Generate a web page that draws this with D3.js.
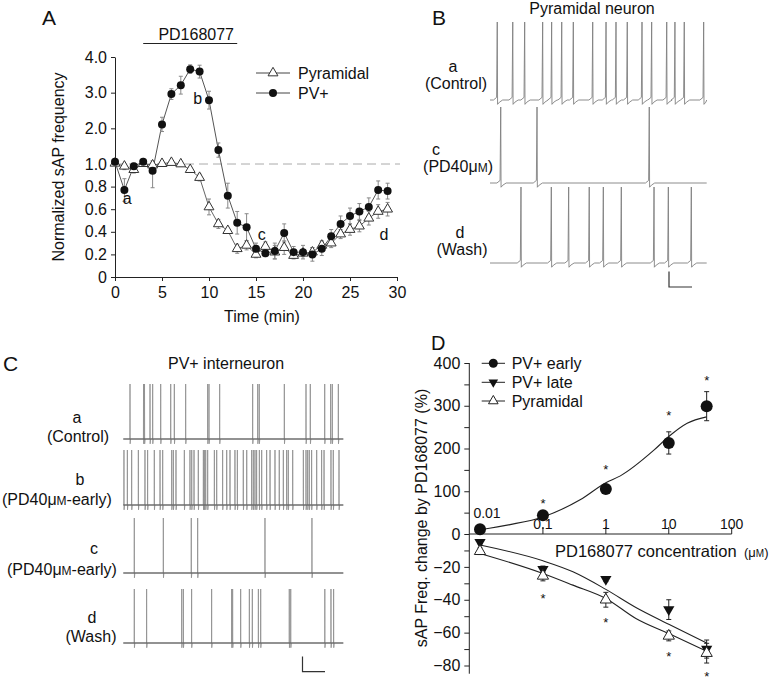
<!DOCTYPE html>
<html><head><meta charset="utf-8">
<script src="https://cdn.jsdelivr.net/npm/d3@7"></script>
<style>
body{margin:0;background:#fff}
svg{display:block}
text{font-family:"Liberation Sans",Arial,Helvetica,sans-serif;fill:#111}
</style>
</head><body>
<svg id="fig" width="775" height="683"></svg>
<script>
// ================= DATA =================
// Panel A: time course (minutes) of normalized sAP frequency
const timeMin = [0,1,2,3,4,5,6,7,8,9,10,11,12,13,14,15,16,17,18,19,20,21,22,23,24,25,26,27,28,29];
const pvFreq  = [1.06,0.77,0.98,1.06,0.94,2.11,2.96,3.21,3.66,3.59,2.79,1.39,0.72,0.48,0.44,0.25,0.21,0.23,0.39,0.22,0.22,0.20,0.25,0.36,0.47,0.54,0.58,0.62,0.77,0.76];
const pvErr   = [0.05,0.10,0.04,0.05,0.15,0.20,0.15,0.25,0.12,0.18,0.25,0.20,0.11,0.10,0.12,0.05,0.03,0.07,0.08,0.05,0.06,0.06,0.06,0.06,0.07,0.07,0.07,0.08,0.08,0.07];
const pyrFreq = [1.02,0.98,0.95,1.01,0.99,1.01,1.04,1.00,0.95,0.88,0.62,0.47,0.41,0.25,0.28,0.20,0.27,0.22,0.26,0.19,0.21,0.22,0.28,0.30,0.38,0.42,0.45,0.52,0.58,0.60];
const pyrErr  = [0.03,0.03,0.03,0.03,0.03,0.02,0.02,0.02,0.02,0.03,0.07,0.04,0.02,0.04,0.04,0.03,0.04,0.06,0.06,0.03,0.03,0.04,0.04,0.04,0.04,0.05,0.05,0.06,0.06,0.06];
const aTicksX = [0,5,10,15,20,25,30];
const aTicksY = [0,0.2,0.4,0.6,0.8,1.0,2.0,3.0,4.0];
const aTickLabelsY = ["0","0.2","0.4","0.6","0.8","1.0","2.0","3.0","4.0"];
const drugWindow = [3,13];           // PD168077 application (min)
const aPointLabels = [               // [label, time, value] sample markers
  ["a",1.3,0.70],["b",8.8,2.85],["c",15.6,0.38],["d",28.6,0.38]
];

// Panel B: pyramidal neuron spike times (s) in each sweep
const sweepSec = 20;
const pyrSpikesA = [0.67,2.10,3.20,4.86,5.69,6.62,7.69,9.48,10.71,11.63,12.67,14.03,14.92,16.31,17.07,17.93,19.72];
const pyrSpikesC = [0.99,4.34,14.70];
const pyrSpikesD = [2.86,5.66,7.26,9.16,10.46,12.12,15.14,16.46,18.58];

// Panel C: PV+ interneuron spike times (s)
const pvSpikesA = [0.61,1.84,1.93,2.43,2.67,3.40,4.31,4.64,5.67,7.67,7.79,8.76,11.76,12.22,12.36,14.64,16.61,17.00,18.31,18.85,19.00,19.55];
const pvSpikesB = [0.06,0.37,0.76,1.37,1.97,2.21,2.82,3.34,3.58,4.40,4.55,4.79,5.55,6.06,6.22,6.43,6.82,7.28,7.37,7.49,7.67,8.28,8.49,9.03,9.40,9.70,10.15,10.37,10.91,11.22,11.67,11.82,11.97,12.12,12.37,12.58,13.03,13.34,13.79,14.18,14.55,14.85,15.00,15.40,16.37,16.61,16.76,16.91,17.12,17.58,18.03,18.25,18.88,19.09,19.61];
const pvSpikesC = [1.00,3.64,6.18,6.76,12.88,17.15];
const pvSpikesD = [1.00,2.12,5.31,5.46,6.21,8.03,9.85,9.94,10.67,11.46,11.73,12.28,12.49,15.09,15.22,18.32,18.88,19.12];

// Panel D: concentration-response (µM, % change)
const concs     = [0.01,0.1,1,10,40];
const pvEarly   = [11,44,105,213,299];
const pvEarlyE  = [3,4,5,26,34];
const pvLate    = [-5,-21.5,-27.5,-46,-70];
const pvLateE   = [1,2,1.5,6,5.5];
const pyrD      = [-10.5,-25.5,-40,-62,-72.5];
const pyrDE     = [2,3,4.5,3,6];
const fitEarlyX = [0.01,0.03,0.1,0.39,1,1.7,5.8,10,19.6,40];
const fitEarlyY = [10,22,40,80,120,136,196,228,259,274];
const fitLowX   = [0.01,0.1,0.3,1,3,10,40];
const fitLateY  = [-6.7,-16.3,-23,-33.7,-44.7,-54.9,-66.3];
const fitPyrY   = [-11.8,-24,-31.1,-39.2,-51.4,-60.6,-71.3];
const starsUp   = [[0.1,78],[1,157],[10,284],[40,364]];
const starsDown = [[0.1,-37.8],[1,-52.4],[10,-73.2],[40,-85]];
const dTicksMajor = [-80,-60,-40,-20,0,100,200,300,400];
const dTicksMinor = [-70,-50,-30,-10,50,150,250,350];
const dTicksX = [0.1,1,10,100];
const dTickLabelsX = ["0.1","1","10","100"];

// ================= DRAW =================
const svg = d3.select("#fig");
svg.append("rect").attr("width",775).attr("height",683).attr("fill","#fff");
const FS = 16;

function txt(g,x,y,s,opt={}){
  const t = g.append("text").attr("x",x).attr("y",y).attr("font-size",opt.size||FS)
    .attr("text-anchor",opt.anchor||"start").text(s);
  if(opt.rotate) t.attr("transform",`rotate(${opt.rotate},${x},${y})`);
  return t;
}
function styleAxis(g,size){
  g.selectAll("path.domain").attr("stroke","#222").attr("stroke-width",1);
  g.selectAll(".tick line").attr("stroke","#222");
  g.selectAll(".tick text").attr("font-size",size||FS).attr("fill","#111")
    .attr("font-family","'Liberation Sans',Arial,sans-serif");
}

// ---------- Panel A ----------
const gA = svg.append("g");
const xA = d3.scaleLinear([0,30],[115,397]);
const yA = d3.scaleLinear([0,1,4],[277,164,57]);

txt(gA,42,25,"A",{size:21});
gA.append("line").attr("x1",xA(drugWindow[0])).attr("x2",xA(drugWindow[1]))
  .attr("y1",43.5).attr("y2",43.5).attr("stroke","#222").attr("stroke-width",1.2);
txt(gA,(xA(drugWindow[0])+xA(drugWindow[1]))/2+6,40,"PD168077",{anchor:"middle"});

gA.append("line").attr("x1",xA(0)).attr("x2",xA(30)+3).attr("y1",yA(1)).attr("y2",yA(1))
  .attr("stroke","#aaa").attr("stroke-dasharray","9,5").attr("stroke-width",1);

const axAx = gA.append("g").attr("transform",`translate(0,${yA(0)})`)
  .call(d3.axisBottom(xA).tickValues(aTicksX).tickSize(4).tickSizeOuter(0).tickPadding(6));
styleAxis(axAx);
const axAy = gA.append("g").attr("transform",`translate(${xA(0)},0)`)
  .call(d3.axisLeft(yA).tickValues(aTicksY).tickFormat((d,i)=>aTickLabelsY[i]).tickSize(4).tickSizeOuter(0).tickPadding(4));
styleAxis(axAy);

txt(gA,64,167,"Normalized sAP frequency",{anchor:"middle",rotate:-90});
txt(gA,262,322,"Time (min)",{anchor:"middle"});

const lineA = (vals)=>d3.line().x((d,i)=>xA(timeMin[i])).y(d=>yA(d))(vals);
gA.append("path").attr("d",lineA(pyrFreq)).attr("fill","none").attr("stroke","#666").attr("stroke-width",1);
gA.append("path").attr("d",lineA(pvFreq)).attr("fill","none").attr("stroke","#555").attr("stroke-width",1);

function errBars(g,xs,ys,xv,yv,ev,color,cap){
  xv.forEach((x,i)=>{
    const X=xs(x), y1=ys(yv[i]-ev[i]), y2=ys(yv[i]+ev[i]);
    g.append("line").attr("x1",X).attr("x2",X).attr("y1",y1).attr("y2",y2).attr("stroke",color).attr("stroke-width",1);
    [y1,y2].forEach(y=>g.append("line").attr("x1",X-cap).attr("x2",X+cap).attr("y1",y).attr("y2",y).attr("stroke",color).attr("stroke-width",1));
  });
}
errBars(gA,xA,yA,timeMin,pyrFreq,pyrErr,"#888",2);
errBars(gA,xA,yA,timeMin,pvFreq,pvErr,"#888",2);

const triUp = d3.symbol(d3.symbolTriangle,42)();
gA.selectAll(".tri").data(pyrFreq).join("path").attr("d",triUp)
  .attr("transform",(d,i)=>`translate(${xA(timeMin[i])},${yA(d)})`)
  .attr("fill","#fff").attr("stroke","#333").attr("stroke-width",1);
gA.selectAll(".dot").data(pvFreq).join("circle")
  .attr("cx",(d,i)=>xA(timeMin[i])).attr("cy",d=>yA(d)).attr("r",4).attr("fill","#111");

aPointLabels.forEach(([l,t,v])=>txt(gA,xA(t),yA(v)+6,l,{anchor:"middle"}));

[["Pyramidal",73,"tri"],["PV+",93,"dot"]].forEach(([name,y,type])=>{
  gA.append("line").attr("x1",256).attr("x2",290).attr("y1",y).attr("y2",y).attr("stroke","#444");
  if(type==="tri") gA.append("path").attr("d",triUp).attr("transform",`translate(273,${y})`).attr("fill","#fff").attr("stroke","#333");
  else gA.append("circle").attr("cx",273).attr("cy",y).attr("r",4).attr("fill","#111");
  txt(gA,298,y+6,name);
});

// ---------- trace helper ----------
function tracePath(spikes,xs,ys,shape,base){
  const pts=[[0,base]];
  spikes.slice().sort((a,b)=>a-b).forEach(s=>shape.forEach(([dt,v])=>pts.push([s+dt,v])));
  pts.push([sweepSec,base]);
  return d3.line().x(d=>xs(Math.max(0,Math.min(sweepSec,d[0])))).y(d=>ys(d[1]))(pts);
}
const pyrShape = [[-0.35,-65],[-0.06,-62],[0,25],[0.03,-70],[0.2,-67.5],[0.5,-65]];
const pvShape  = [[-0.012,-65],[0,15],[0.012,-72],[0.05,-65]];

// ---------- Panel B ----------
const gB = svg.append("g");
txt(gB,432,25,"B",{size:21});
txt(gB,592,14,"Pyramidal neuron",{anchor:"middle"});
const xB = d3.scaleLinear([0,sweepSec],[490,706.7]);
const bRows = [
  {sp:pyrSpikesA,base:100,top:22,l1:"a",l1x:453,l1y:72,l2:"(Control)",l2x:456,l2y:89},
  {sp:pyrSpikesC,base:183,top:107,l1:"c",l1x:436,l1y:155,l2:"(PD40",l2x:458,l2y:172,micro:")"},
  {sp:pyrSpikesD,base:263,top:187,l1:"d",l1x:460,l1y:238,l2:"(Wash)",l2x:462,l2y:255}
];
bRows.forEach(r=>{
  const ys = d3.scaleLinear([-65,25],[r.base,r.top]);
  gB.append("path").attr("d",tracePath(r.sp,xB,ys,pyrShape,-65)).attr("fill","none").attr("stroke","#808080").attr("stroke-width",0.9);
  txt(gB,r.l1x,r.l1y,r.l1,{anchor:"middle"});
  const t = txt(gB,r.l2x,r.l2y,r.l2,{anchor:"middle"});
  if(r.micro){ t.append("tspan").text("μ"); t.append("tspan").attr("font-size",12).text("M"); t.append("tspan").text(r.micro); }
});
gB.append("path").attr("d","M669,271.5V287H692").attr("fill","none").attr("stroke","#333").attr("stroke-width",1.2);

// ---------- Panel C ----------
const gC = svg.append("g");
txt(gC,3,371,"C",{size:21});
txt(gC,226,369,"PV+ interneuron",{anchor:"middle"});
const xC = d3.scaleLinear([0,sweepSec],[123.3,343.3]);
const cRows = [
  {sp:pvSpikesA,base:439,top:384,l1:"a",l1x:77,l1y:423,l2:"(Control)",l2x:78,l2y:442},
  {sp:pvSpikesB,base:505,top:450,l1:"b",l1x:80,l1y:485,l2:"(PD40",l2x:57,l2y:505,micro:"-early)"},
  {sp:pvSpikesC,base:573,top:518,l1:"c",l1x:94,l1y:554,l2:"(PD40",l2x:62,l2y:575,micro:"-early)"},
  {sp:pvSpikesD,base:643,top:589,l1:"d",l1x:92,l1y:623,l2:"(Wash)",l2x:91,l2y:642}
];
cRows.forEach(r=>{
  const ys = d3.scaleLinear([-65,15],[r.base,r.top]);
  gC.append("path").attr("d",tracePath(r.sp,xC,ys,pvShape,-65)).attr("fill","none").attr("stroke","#909090").attr("stroke-width",0.85);
  gC.append("line").attr("x1",xC(0)).attr("x2",xC(sweepSec)).attr("y1",r.base).attr("y2",r.base).attr("stroke","#555").attr("stroke-width",1);
  txt(gC,r.l1x,r.l1y,r.l1,{anchor:"middle"});
  const t = txt(gC,r.l2x,r.l2y,r.l2,{anchor:"middle"});
  if(r.micro){ t.append("tspan").text("μ"); t.append("tspan").attr("font-size",12).text("M"); t.append("tspan").text(r.micro); }
});
gC.append("path").attr("d","M302.5,656.5V671.7H325").attr("fill","none").attr("stroke","#333").attr("stroke-width",1.2);

// ---------- Panel D ----------
const gD = svg.append("g");
txt(gD,431,350,"D",{size:20});
const xD = d3.scaleLog([0.01,100],[480,731.7]);
const yD = d3.scaleLinear([-80,0,400],[665.5,534,363]);
const yAxisX = 469.3;

const axDy = gD.append("g").attr("transform",`translate(${yAxisX},0)`)
  .call(d3.axisLeft(yD).tickValues(dTicksMajor).tickFormat(d=>d<0?"−"+Math.abs(d):d).tickSize(5).tickSizeOuter(0).tickPadding(4));
styleAxis(axDy);
axDy.select("path.domain").remove();
const axDy2 = gD.append("g").attr("transform",`translate(${yAxisX},0)`)
  .call(d3.axisLeft(yD).tickValues(dTicksMinor).tickFormat("").tickSize(5).tickSizeOuter(0));
styleAxis(axDy2);
axDy2.select("path.domain").remove();
gD.append("line").attr("x1",yAxisX).attr("x2",yAxisX).attr("y1",yD(400)).attr("y2",yD(-85)).attr("stroke","#222");

gD.append("line").attr("x1",yAxisX).attr("x2",xD(100)).attr("y1",yD(0)).attr("y2",yD(0)).attr("stroke","#222");
dTicksX.forEach((v,i)=>{
  gD.append("line").attr("x1",xD(v)).attr("x2",xD(v)).attr("y1",yD(0)).attr("y2",yD(0)-7).attr("stroke","#222");
  txt(gD,xD(v),yD(0)-5,dTickLabelsX[i],{anchor:"middle",size:14});
});
txt(gD,xD(0.01)+7,yD(0)-16,"0.01",{anchor:"middle",size:14});
txt(gD,555,557,"PD168077 concentration",{size:16.5});
const xu = txt(gD,744,557,"(μ",{size:13});
xu.append("tspan").attr("font-size",10).text("M");
xu.append("tspan").attr("font-size",13).text(")");
txt(gD,427,518,"sAP Freq. change by PD168077 (%)",{anchor:"middle",rotate:-90});

const fitLine = d3.line().x(d=>xD(d[0])).y(d=>yD(d[1])).curve(d3.curveMonotoneX);
gD.append("path").attr("d",fitLine(fitEarlyX.map((x,i)=>[x,fitEarlyY[i]]))).attr("fill","none").attr("stroke","#222").attr("stroke-width",1.1);
gD.append("path").attr("d",fitLine(fitLowX.map((x,i)=>[x,fitLateY[i]]))).attr("fill","none").attr("stroke","#222").attr("stroke-width",1.1);
gD.append("path").attr("d",fitLine(fitLowX.map((x,i)=>[x,fitPyrY[i]]))).attr("fill","none").attr("stroke","#222").attr("stroke-width",1.1);

errBars(gD,xD,yD,concs,pvEarly,pvEarlyE,"#222",2.5);
errBars(gD,xD,yD,concs,pvLate,pvLateE,"#222",2.5);
errBars(gD,xD,yD,concs,pyrD,pyrDE,"#222",2.5);

const triD = d3.symbol(d3.symbolTriangle,55)();
gD.selectAll(".late").data(pvLate).join("path").attr("d",triD)
  .attr("transform",(d,i)=>`translate(${xD(concs[i])},${yD(d)}) rotate(180)`).attr("fill","#111");
gD.selectAll(".pyr").data(pyrD).join("path").attr("d",triD)
  .attr("transform",(d,i)=>`translate(${xD(concs[i])},${yD(d)})`).attr("fill","#fff").attr("stroke","#222").attr("stroke-width",1);
gD.selectAll(".early").data(pvEarly).join("circle")
  .attr("cx",(d,i)=>xD(concs[i])).attr("cy",d=>yD(d)).attr("r",6).attr("fill","#111");

starsUp.concat(starsDown).forEach(([c,v])=>txt(gD,xD(c),yD(v)+7,"*",{anchor:"middle",size:13}));

[["PV+ early",363.3,"dot"],["PV+ late",382.3,"down"],["Pyramidal",401,"up"]].forEach(([name,y,type])=>{
  gD.append("line").attr("x1",481.7).attr("x2",505).attr("y1",y).attr("y2",y).attr("stroke","#222");
  if(type==="dot") gD.append("circle").attr("cx",493.3).attr("cy",y).attr("r",4.5).attr("fill","#111");
  else if(type==="down") gD.append("path").attr("d",d3.symbol(d3.symbolTriangle,40)()).attr("transform",`translate(493.3,${y}) rotate(180)`).attr("fill","#111");
  else gD.append("path").attr("d",d3.symbol(d3.symbolTriangle,40)()).attr("transform",`translate(493.3,${y})`).attr("fill","#fff").attr("stroke","#222");
  txt(gD,511.7,y+6,name);
});
</script>
</body></html>
